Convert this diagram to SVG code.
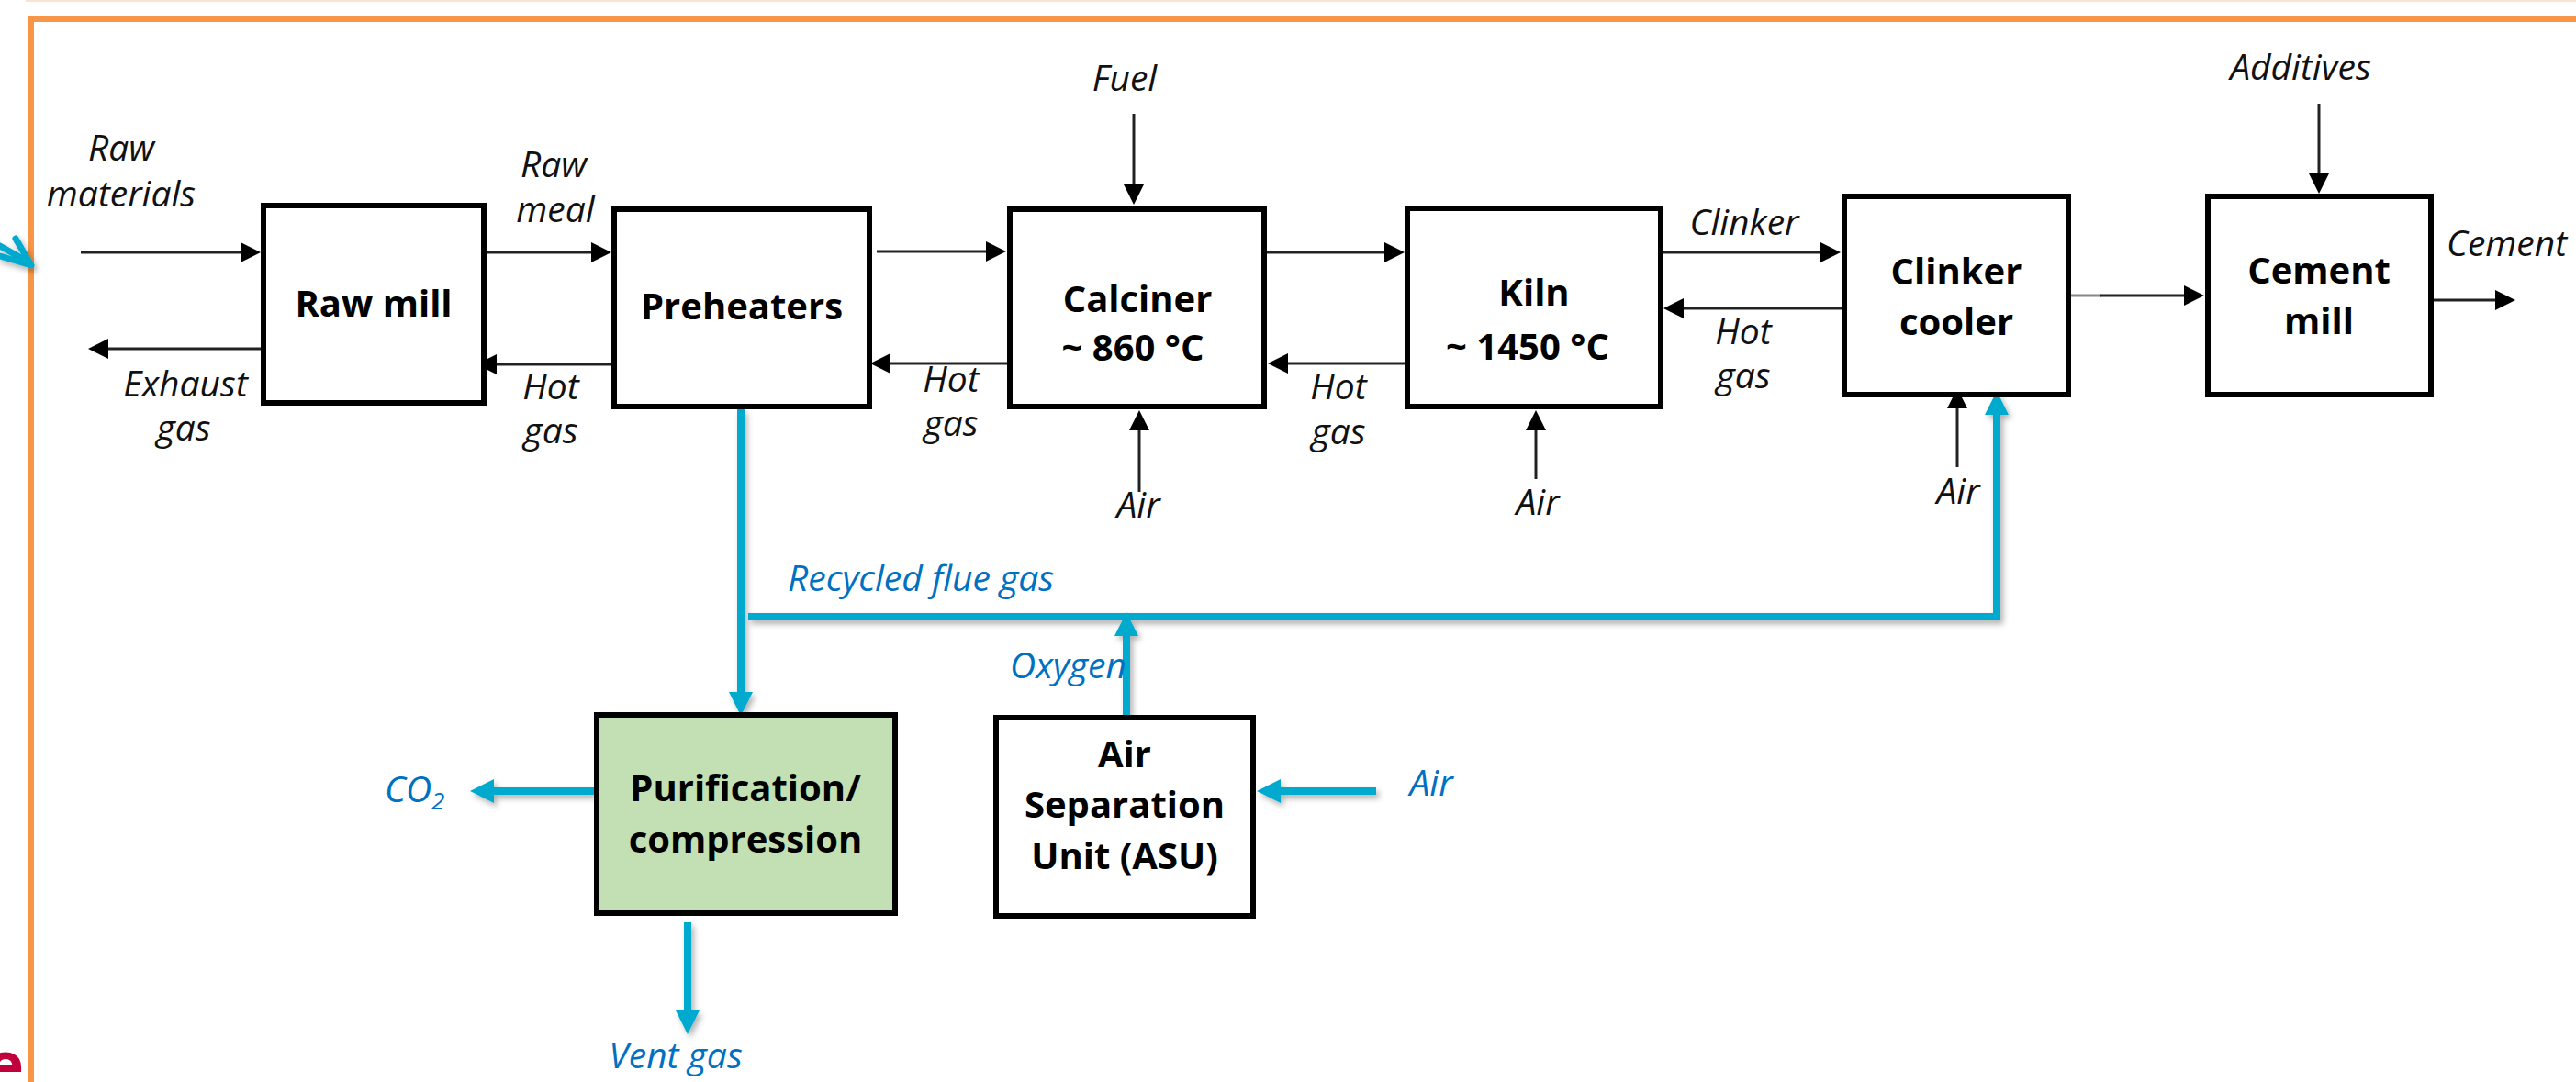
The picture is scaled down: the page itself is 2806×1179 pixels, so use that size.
<svg xmlns="http://www.w3.org/2000/svg" width="2806" height="1179" viewBox="0 0 2806 1179">
<style>
.box{fill:#fff;stroke:#000;stroke-width:6}
.green{fill:#C3E0B4}
.bt{font-family:"Open Sans","Noto Sans","DejaVu Sans",sans-serif;font-weight:700;font-size:40px;fill:#000;text-anchor:middle}
.lbl{font-family:"Open Sans","Noto Sans","DejaVu Sans",sans-serif;font-style:italic;font-size:39px;fill:#111;text-anchor:middle}
.blbl{font-family:"Open Sans","Noto Sans","DejaVu Sans",sans-serif;font-style:italic;font-size:39px;fill:#0070C0}
.k{fill:none;stroke:#222;stroke-width:3;marker-end:url(#ah)}
.b{fill:none;stroke:#00A9CE;stroke-width:8;marker-end:url(#bh)}
</style>
<defs>
<marker id="ah" markerUnits="userSpaceOnUse" viewBox="0 -11 22 22" refX="1" refY="0" markerWidth="22" markerHeight="22" orient="auto"><path d="M0,-11 L22,0 L0,11 z" fill="#000"/></marker>
<marker id="bh" markerUnits="userSpaceOnUse" viewBox="0 -13 26 26" refX="1" refY="0" markerWidth="26" markerHeight="26" orient="auto"><path d="M0,-13 L26,0 L0,13 z" fill="#00A9CE"/></marker>
<filter id="sh" filterUnits="userSpaceOnUse" x="0" y="0" width="2806" height="1179"><feDropShadow dx="3" dy="4" stdDeviation="3" flood-color="#000" flood-opacity="0.3"/></filter>
<clipPath id="ec"><rect x="0" y="1130" width="40" height="41"/></clipPath>
</defs>
<rect width="2806" height="1179" fill="#fff"/>
<line x1="28" y1="1" x2="2806" y2="1" stroke="#FBE3D0" stroke-width="2"/>
<rect x="33.5" y="20.5" width="3000" height="2000" fill="none" stroke="#F79646" stroke-width="7"/>
<g id="edge-fragment" filter="url(#sh)" fill="none" stroke="#00A9CE" stroke-width="7" stroke-linecap="round" stroke-linejoin="round">
<path d="M17,260 L34,289 L0,279"/>
<path d="M0,268 L30,285"/>
</g>
<text x="26" y="1185" clip-path="url(#ec)" font-family="Open Sans, sans-serif" font-weight="700" font-size="70" fill="#C0003C" text-anchor="end">e</text>

<g id="connectors">
<path class="k" d="M88,275 H263"/>
<path class="k" d="M285,380 H117"/>
<path class="k" d="M516,275 H645"/>
<path class="k" d="M666,397 H540"/>
<path class="k" d="M955,274 H1075"/>
<path class="k" d="M1100,396 H969"/>
<path class="k" d="M1235,124 V202"/>
<path class="k" d="M1241,536 V468"/>
<path class="k" d="M1380,275 H1509"/>
<path class="k" d="M1531,396 H1402"/>
<path class="k" d="M1673,522 V468"/>
<path class="k" d="M1812,275 H1984"/>
<path class="k" d="M2006,336 H1833"/>
<path class="k" d="M2132,509 V444"/>
<path d="M2256,322 H2289" stroke="#888" stroke-width="3"/>
<path class="k" d="M2288,322 H2380"/>
<path class="k" d="M2526,113 V190"/>
<path class="k" d="M2651,327 H2719"/>
<g filter="url(#sh)">
<path class="b" d="M807,446 V755"/>
<path class="b" d="M815,672 H2175 V451"/>
<path class="b" d="M1227,779 V692"/>
<path class="b" d="M647,862 H537"/>
<path class="b" d="M749,1005 V1102"/>
<path class="b" d="M1499,862 H1394"/>
</g>
</g>

<g id="raw-mill"><rect class="box" x="287" y="224" width="240" height="215"/><text class="bt" x="407" y="345">Raw mill</text></g>
<g id="preheaters"><rect class="box" x="669" y="228" width="278" height="215"/><text class="bt" x="808" y="348">Preheaters</text></g>
<g id="calciner"><rect class="box" x="1100" y="228" width="277" height="215"/><text class="bt" x="1239" y="340">Calciner</text><text class="bt" x="1234" y="393">~ 860 °C</text></g>
<g id="kiln"><rect class="box" x="1533" y="227" width="276" height="216"/><text class="bt" x="1671" y="333">Kiln</text><text class="bt" x="1664" y="392">~ 1450 °C</text></g>
<g id="clinker-cooler"><rect class="box" x="2009" y="214" width="244" height="216"/><text class="bt" x="2131" y="310">Clinker</text><text class="bt" x="2131" y="365">cooler</text></g>
<g id="cement-mill"><rect class="box" x="2405" y="214" width="243" height="216"/><text class="bt" x="2526" y="309">Cement</text><text class="bt" x="2526" y="364">mill</text></g>
<g id="purification"><rect class="box green" x="650" y="779" width="325" height="216"/><text class="bt" x="812" y="873">Purification/</text><text class="bt" x="812" y="929">compression</text></g>
<g id="asu"><rect class="box" x="1085" y="782" width="280" height="216"/><text class="bt" x="1225" y="836">Air</text><text class="bt" x="1225" y="891">Separation</text><text class="bt" x="1225" y="947">Unit (ASU)</text></g>

<g id="labels">
<text class="lbl" x="132" y="175">Raw</text><text class="lbl" x="132" y="225">materials</text>
<text class="lbl" x="202" y="432">Exhaust</text><text class="lbl" x="200" y="480">gas</text>
<text class="lbl" x="603" y="193">Raw</text><text class="lbl" x="605" y="242">meal</text>
<text class="lbl" x="600" y="435">Hot</text><text class="lbl" x="600" y="483">gas</text>
<text class="lbl" x="1036" y="427">Hot</text><text class="lbl" x="1036" y="475">gas</text>
<text class="lbl" x="1225" y="99">Fuel</text>
<text class="lbl" x="1240" y="564">Air</text>
<text class="lbl" x="1458" y="435">Hot</text><text class="lbl" x="1458" y="484">gas</text>
<text class="lbl" x="1675" y="561">Air</text>
<text class="lbl" x="1900" y="256">Clinker</text>
<text class="lbl" x="1899" y="375">Hot</text><text class="lbl" x="1899" y="423">gas</text>
<text class="lbl" x="2133" y="549">Air</text>
<text class="lbl" x="2506" y="87">Additives</text>
<text class="lbl" x="2665" y="279" style="text-anchor:start">Cement</text>
<text class="blbl" x="858" y="644">Recycled flue gas</text>
<text class="blbl" x="1227" y="739" style="text-anchor:end">Oxygen</text>
<text class="blbl" x="1559" y="867" style="text-anchor:middle">Air</text>
<text class="blbl" x="419" y="874">CO<tspan font-size="26" dy="8">2</tspan></text>
<text class="blbl" x="736" y="1164" style="text-anchor:middle">Vent gas</text>
</g>
</svg>
